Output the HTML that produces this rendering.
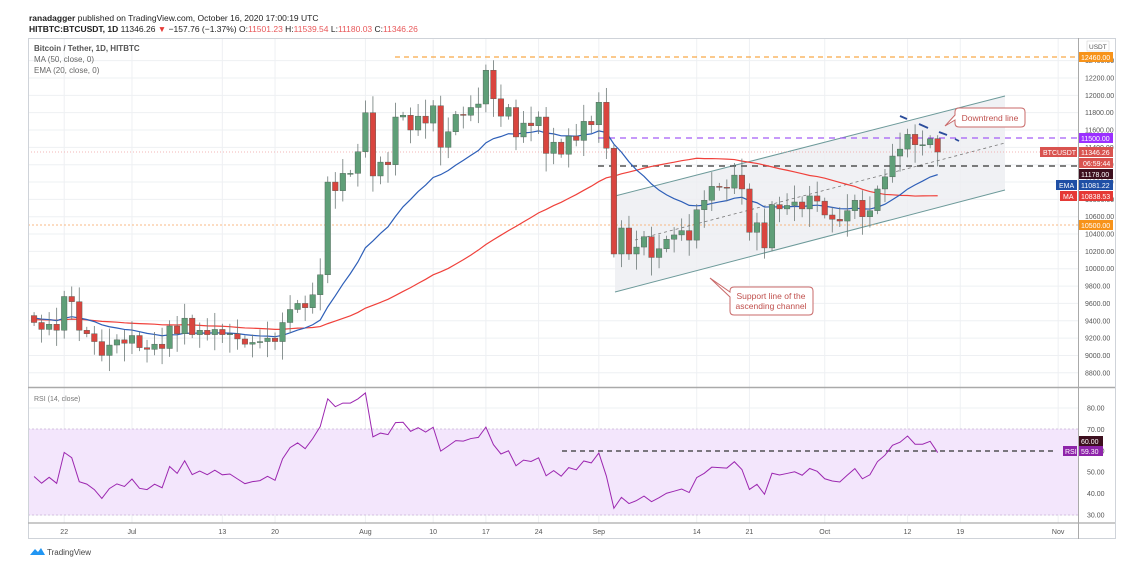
<!DOCTYPE html>
<html><head><meta charset="utf-8"><style>
body{margin:0;background:#fff;width:1135px;height:577px;overflow:hidden;font-family:"Liberation Sans",sans-serif}
svg text{font-family:"Liberation Sans",sans-serif}
</style></head><body>
<svg id="s" width="1135" height="577" xmlns="http://www.w3.org/2000/svg">
<rect width="1135" height="577" fill="#fff"/>
<g id="grid"></g>
<rect x="28" y="429" width="1050" height="86" fill="#f3e6fc"/>
<line x1="28" y1="429" x2="1078" y2="429" stroke="#c9b3d6" stroke-dasharray="2,2" stroke-width="0.8"/>
<line x1="28" y1="515" x2="1078" y2="515" stroke="#c9b3d6" stroke-dasharray="2,2" stroke-width="0.8"/>
<polygon points="615,196 1005,96 1005,190 615,292" fill="#eceef1" fill-opacity="0.8"/>
<line x1="615" y1="196" x2="1005" y2="96" stroke="#6d9a9a" stroke-width="1"/>
<line x1="615" y1="292" x2="1005" y2="190" stroke="#6d9a9a" stroke-width="1"/>
<line x1="635" y1="240" x2="1005" y2="143" stroke="#777" stroke-width="0.8" stroke-dasharray="3,3"/>
<line x1="395" y1="57" x2="1078" y2="57" stroke="#f7931a" stroke-width="1" stroke-dasharray="5,4"/>
<line x1="28" y1="225" x2="1078" y2="225" stroke="#f7a35c" stroke-width="0.8" stroke-dasharray="2,2"/>
<line x1="28" y1="152" x2="1078" y2="152" stroke="#f0a0a0" stroke-width="0.7" stroke-dasharray="1,2"/>
<line x1="598" y1="138" x2="1078" y2="138" stroke="#a35cf5" stroke-width="1.3" stroke-dasharray="6,5"/>
<line x1="598" y1="166" x2="1078" y2="166" stroke="#333" stroke-width="1.3" stroke-dasharray="6,5"/>
<g id="lines"></g>
<g id="candles"></g>
<line x1="900" y1="116" x2="907" y2="119" stroke="#2b4c9b" stroke-width="1.8"/>
<line x1="919" y1="124" x2="928" y2="128" stroke="#2b4c9b" stroke-width="1.8"/>
<line x1="939" y1="132" x2="947" y2="135" stroke="#2b4c9b" stroke-width="1.8"/>
<line x1="955" y1="139" x2="959" y2="141" stroke="#2b4c9b" stroke-width="1.8"/>
<path d="M959,108 H1021 Q1025,108 1025,112 V123 Q1025,127 1021,127 H959 Q955,127 955,123 V120 L945,126 L955,115 V112 Q955,108 959,108 Z" fill="#fff" stroke="#c96a6a" stroke-width="1"/>
<text x="990" y="121" font-size="8.5" fill="#c0504d" text-anchor="middle">Downtrend line</text>
<path d="M734,287 H809 Q813,287 813,291 V311 Q813,315 809,315 H734 Q730,315 730,311 V297 L710,278 L730,292 V291 Q730,287 734,287 Z" fill="#fff" stroke="#c96a6a" stroke-width="1"/>
<text x="771" y="299" font-size="8.5" fill="#c0504d" text-anchor="middle">Support line of the</text>
<text x="771" y="309" font-size="8.5" fill="#c0504d" text-anchor="middle">ascending channel</text>
<line x1="562" y1="451" x2="1055" y2="451" stroke="#333" stroke-width="1.2" stroke-dasharray="5,4"/>
<g id="rsi"></g>
<rect x="28.5" y="38.5" width="1087" height="500" fill="none" stroke="#cfd3d9"/>
<line x1="28" y1="387.5" x2="1115" y2="387.5" stroke="#aaa" stroke-width="1.5"/>
<line x1="28" y1="523" x2="1115" y2="523" stroke="#aaa" stroke-width="1.2"/>
<line x1="1078.5" y1="38" x2="1078.5" y2="539" stroke="#aaa"/>
<text x="29" y="21" font-size="8.5" fill="#222"><tspan font-weight="bold">ranadagger</tspan> published on TradingView.com, October 16, 2020 17:00:19 UTC</text>
<text x="29" y="32" font-size="8.5" fill="#222"><tspan font-weight="bold">HITBTC:BTCUSDT, 1D</tspan> 11346.26 <tspan fill="#e53935">▼</tspan> −157.76 (−1.37%) O:<tspan fill="#e8585a">11501.23</tspan> H:<tspan fill="#e8585a">11539.54</tspan> L:<tspan fill="#e8585a">11180.03</tspan> C:<tspan fill="#e8585a">11346.26</tspan></text>
<text x="34" y="51" font-size="8" fill="#555" font-weight="bold">Bitcoin / Tether, 1D, HITBTC</text>
<text x="34" y="62" font-size="8" fill="#666">MA (50, close, 0)</text>
<text x="34" y="73" font-size="8" fill="#666">EMA (20, close, 0)</text>
<text x="34" y="401" font-size="7" fill="#777">RSI (14, close)</text>
<g id="axis" font-size="7" fill="#555"></g>
<rect x="1087" y="41" width="22" height="10" fill="#fff" stroke="#ccc" stroke-width="0.5"/><text x="1089" y="49" font-size="6.5" fill="#555">USDT</text>
<rect x="1079" y="52" width="34" height="10" fill="#f7931a"/><text x="1081" y="60" font-size="7" fill="#fff">12460.00</text>
<rect x="1079" y="133" width="34" height="10" fill="#9b30ff"/><text x="1081" y="141" font-size="7" fill="#fff">11500.00</text>
<rect x="1040" y="147" width="37" height="10" fill="#d9534f"/><text x="1043" y="155" font-size="7" fill="#fff">BTCUSDT</text>
<rect x="1079" y="147" width="34" height="10" fill="#d9534f"/><text x="1081" y="155" font-size="7" fill="#fff">11346.26</text>
<rect x="1079" y="158" width="34" height="10" fill="#d9534f"/><text x="1083" y="166" font-size="7" fill="#fff">06:59:44</text>
<rect x="1079" y="169" width="34" height="10" fill="#3d0f1e"/><text x="1081" y="177" font-size="7" fill="#fff">11178.00</text>
<rect x="1056" y="180" width="21" height="10" fill="#1f4fa5"/><text x="1059" y="188" font-size="7" fill="#fff">EMA</text>
<rect x="1079" y="180" width="34" height="10" fill="#1f4fa5"/><text x="1081" y="188" font-size="7" fill="#fff">11081.22</text>
<rect x="1060" y="191" width="17" height="10" fill="#e53935"/><text x="1063" y="199" font-size="7" fill="#fff">MA</text>
<rect x="1079" y="191" width="34" height="10" fill="#e53935"/><text x="1081" y="199" font-size="7" fill="#fff">10838.53</text>
<rect x="1079" y="220" width="34" height="10" fill="#f7931a"/><text x="1081" y="228" font-size="7" fill="#fff">10500.00</text>
<rect x="1079" y="436" width="24" height="10" fill="#3d0f1e"/><text x="1081" y="444" font-size="7" fill="#fff">60.00</text>
<rect x="1063" y="446" width="14" height="10" fill="#8e24aa"/><text x="1065" y="454" font-size="7" fill="#fff">RSI</text>
<rect x="1079" y="446" width="24" height="10" fill="#8e24aa"/><text x="1081" y="454" font-size="7" fill="#fff">59.30</text>
<path d="M30,555 l5,-6 l3,3 l3,-4 l4,7 z" fill="#2196f3"/>
<text x="47" y="555" font-size="8" fill="#444">TradingView</text>
</svg>
<script>
var NS="http://www.w3.org/2000/svg";
function el(p,t,a){var e=document.createElementNS(NS,t);for(var k in a)e.setAttribute(k,a[k]);document.getElementById(p).appendChild(e);return e;}
function Y(p){return 78+(12200-p)*0.0867;}
function X(d){return 64.2+7.53*d;}
function R(r){return 408+(80-r)*2.14;}
var xt=[[0,"22"],[9,"Jul"],[21,"13"],[28,"20"],[40,"Aug"],[49,"10"],[56,"17"],[63,"24"],[71,"Sep"],[84,"14"],[91,"21"],[101,"Oct"],[112,"12"],[119,"19"],[132,"Nov"]];
xt.forEach(function(t){var x=X(t[0]);el("grid","line",{x1:x,y1:38,x2:x,y2:523,stroke:"#eef0f3","stroke-width":1});
 var e=el("axis","text",{x:x,y:534,"text-anchor":"middle"});e.textContent=t[1];});
for(var p=8800;p<=12400;p+=200){var y=Y(p);el("grid","line",{x1:28,y1:y,x2:1078,y2:y,stroke:"#eef0f3"});
 var e=el("axis","text",{x:1085,y:y+2.5});e.textContent=p.toFixed(2);}
[30,40,50,60,70,80].forEach(function(r){var y=R(r);el("grid","line",{x1:28,y1:y,x2:1078,y2:y,stroke:"#eef0f3"});var e=el("axis","text",{x:1087,y:y+2.5});e.textContent=r.toFixed(2);});
var c=[9380,9300,9360,9290,9680,9620,9290,9250,9160,9000,9120,9180,9140,
9230,9090,9070,9130,9080,9340,9250,9430,9240,9290,9240,9300,9240,9250,9190,9130,9150,9160,9200,9160,
9380,9530,9600,9550,9700,9930,11000,10900,11100,11100,11350,11800,11070,11230,11200,11750,11770,11600,11760,11680,11880,11400,11580,11780,11770,11860,11900,12290,11960,11760,11860,11520,11680,11650,11750,11330,11460,11320,11530,11480,11700,11660,11920,11390,10170,10470,10170,10250,10370,10130,10230,10340,10390,10440,10330,10680,10790,10950,10940,10930,11080,10920,10420,10530,10240,10740,10690,10730,10770,10690,10840,10780,10620,10570,10550,10670,10790,10600,10670,10920,11060,11300,11380,11550,11430,11430,11500,11346];
var d0=-4,pre=[];for(var i=0;i<60;i++)pre.push(9400+Math.sin(i*1.3)*120+Math.sin(i*0.37)*80);
pre=pre.concat([9440,9520,9460]);
var all=pre.concat(c),off=pre.length;
for(var i=0;i<c.length;i++){var o=i?c[i-1]:9460,cl=c[i];var hi=Math.max(o,cl)+40+((i*37)%7)*25,lo=Math.min(o,cl)-40-((i*53)%7)*28;
 if(i==c.length-1){o=11501;hi=11540;lo=11180;}
 var x=X(d0+i),col=cl>=o?"#5f9f78":"#d9453f";
 el("candles","line",{x1:x,y1:Y(hi),x2:x,y2:Y(lo),stroke:"#6e7a78","stroke-width":0.8});
 var t=Y(Math.max(o,cl)),b=Y(Math.min(o,cl));el("candles","rect",{x:x-2.8,y:t,width:5.6,height:Math.max(1,b-t),fill:col,stroke:"#4a5a50","stroke-width":0.4});}
var ma=[],ema=[],e=all[0],k=2/21;
for(var i=0;i<all.length;i++){e=i?all[i]*k+e*(1-k):all[i];if(i>=off){var s=0;for(var j=i-49;j<=i;j++)s+=all[j];ma.push([X(d0+i-off),Y(s/50)]);ema.push([X(d0+i-off),Y(e)]);}}
el("lines","polyline",{points:ma.join(" "),fill:"none",stroke:"#f0413b","stroke-width":1.2});
el("lines","polyline",{points:ema.join(" "),fill:"none",stroke:"#2e5fb8","stroke-width":1.2});
var ag=0,al=0,rp=[];for(var i=1;i<all.length;i++){var ch=all[i]-all[i-1],g=Math.max(ch,0),l=Math.max(-ch,0);
 if(i<=14){ag+=g/14;al+=l/14;}else{ag=(ag*13+g)/14;al=(al*13+l)/14;}
 if(i>=off){var r=100-100/(1+ag/(al||1e-9));rp.push([X(d0+i-off),R(r)]);}}
el("rsi","polyline",{points:rp.join(" "),fill:"none",stroke:"#9c27b0","stroke-width":1});
</script>
</body></html>
